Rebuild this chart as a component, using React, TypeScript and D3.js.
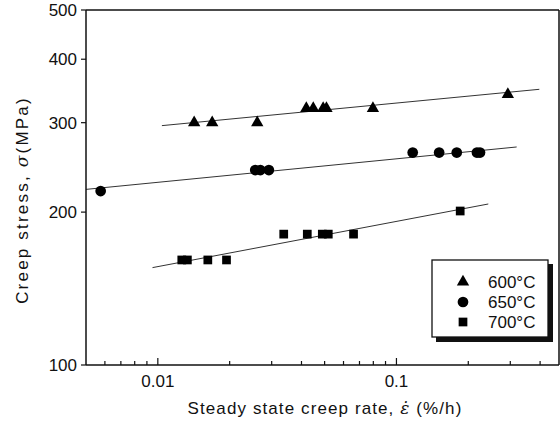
import React from "react";
import * as d3 from "d3";

const W = 560;
const H = 423;

// 600°C
const t600X = [0.0142, 0.0169, 0.0261, 0.0419, 0.0448, 0.0493, 0.0509, 0.0797, 0.293];
const t600Y = [300, 300, 300, 320, 320, 320, 320, 320, 341];
// 650°C
const t650X = [0.00576, 0.0256, 0.0269, 0.0292, 0.117, 0.151, 0.179, 0.2175, 0.224];
const t650Y = [220, 242, 242, 242, 262, 262, 262, 262, 262];
// 700°C
const t700X = [0.0126, 0.0133, 0.0162, 0.0194, 0.0337, 0.0423, 0.0489, 0.0518, 0.0661, 0.185];
const t700Y = [161, 161, 161, 161, 181, 181, 181, 181, 181, 201];

// fitted lines (endpoints)
const fit600X = [0.0104, 0.397];
const fit600Y = [296, 349];
const fit650X = [0.005, 0.319];
const fit650Y = [221.7, 268.7];
const fit700X = [0.0095, 0.2426];
const fit700Y = [155.5, 207.5];

const yTicks = [100, 200, 300, 400, 500];
const xMajor = [0.01, 0.1];
const xLabels = ["0.01", "0.1"];
const xMinor = [0.006, 0.007, 0.008, 0.009, 0.02, 0.03, 0.04, 0.05, 0.06, 0.07, 0.08, 0.09, 0.2, 0.3, 0.4];

const legendLabels = ["600°C", "650°C", "700°C"];

const font = "Arial, 'Liberation Sans', Helvetica, sans-serif";

export default function App() {
  const x = d3.scaleLog().domain([0.005, 0.48]).range([86, 559]);
  const y = d3.scaleLog().domain([100, 500]).range([365, 10]);
  const line = d3
    .line<[number, number]>()
    .x((d) => x(d[0]))
    .y((d) => y(d[1]));

  const fits = [
    [fit600X, fit600Y],
    [fit650X, fit650Y],
    [fit700X, fit700Y],
  ];

  const tri = d3.symbol().type(d3.symbolTriangle).size(66)();
  const circ = d3.symbol().type(d3.symbolCircle).size(90)();
  const sq = d3.symbol().type(d3.symbolSquare).size(76)();

  const x0 = 86, x1 = 559, y0 = 365, y1 = 10;

  return (
    <svg
      width={W}
      height={H}
      style={{ position: "absolute", left: 0, top: 0, background: "#fff" }}
      fontFamily={font}
    >
      <rect x={0} y={0} width={W} height={H} fill="#fff" />
      {/* fit lines */}
      {fits.map(([fx, fy], i) => (
        <path
          key={i}
          d={line(fx.map((v, j) => [v, fy[j]] as [number, number])) || ""}
          fill="none"
          stroke="#333"
          strokeWidth={1}
        />
      ))}
      {/* frame */}
      <line x1={x0} y1={y1} x2={x1} y2={y1} stroke="#111" strokeWidth={1.5} />
      <line x1={x1} y1={y1} x2={x1} y2={y0} stroke="#111" strokeWidth={1.5} />
      <line x1={x0} y1={y0} x2={x1} y2={y0} stroke="#111" strokeWidth={1.5} />
      <line x1={x0} y1={y1} x2={x0} y2={y0} stroke="#111" strokeWidth={1.5} />
      {/* y ticks */}
      {yTicks.map((t) => (
        <g key={t}>
          <line x1={x0 - 5} x2={x0} y1={y(t)} y2={y(t)} stroke="#111" strokeWidth={1.2} />
          <text x={77} y={y(t)} dy="0.36em" textAnchor="end" fontSize={17} fill="#111">
            {t}
          </text>
        </g>
      ))}
      {/* x ticks */}
      {xMinor.map((t) => (
        <line key={t} x1={x(t)} x2={x(t)} y1={y0} y2={y0 - 4} stroke="#111" strokeWidth={1.2} />
      ))}
      {xMajor.map((t, i) => (
        <g key={t}>
          <line x1={x(t)} x2={x(t)} y1={y0} y2={y0 - 7} stroke="#111" strokeWidth={1.2} />
          <text x={x(t)} y={387} textAnchor="middle" fontSize={17} fill="#111">
            {xLabels[i]}
          </text>
        </g>
      ))}
      {/* points */}
      {t600X.map((v, i) => (
        <path key={"a" + i} d={tri || ""} transform={`translate(${x(v)},${y(t600Y[i])})`} fill="#000" />
      ))}
      {t650X.map((v, i) => (
        <path key={"b" + i} d={circ || ""} transform={`translate(${x(v)},${y(t650Y[i])})`} fill="#000" />
      ))}
      {t700X.map((v, i) => (
        <path key={"c" + i} d={sq || ""} transform={`translate(${x(v)},${y(t700Y[i])})`} fill="#000" />
      ))}
      {/* legend */}
      <rect x={436} y={264} width={117} height={78} fill="#111" />
      <rect x={432} y={260} width={116} height={77} fill="#fff" stroke="#111" strokeWidth={1.3} />
      {legendLabels.map((lab, i) => (
        <g key={lab} transform={`translate(0,${282 + i * 20})`}>
          <path
            d={(i === 0 ? tri : i === 1 ? circ : sq) || ""}
            transform="translate(463,0)"
            fill="#000"
          />
          <text x={488} y={0} dy="0.36em" fontSize={17} fill="#111">
            {lab}
          </text>
        </g>
      ))}
      {/* axis titles */}
      <text x={325} y={414} textAnchor="middle" fontSize={17} letterSpacing={1.1} fill="#111">
        Steady state creep rate,{" "}
        <tspan fontFamily="'DejaVu Serif', 'Liberation Serif', serif" fontStyle="italic">
          ε̇
        </tspan>
        {"  (%/h)"}
      </text>
      <text
        transform="translate(28,200) rotate(-90)"
        textAnchor="middle"
        fontSize={17}
        letterSpacing={2.2}
        fill="#111"
      >
        Creep stress,{" "}
        <tspan fontFamily="'DejaVu Serif', 'Liberation Serif', serif" fontStyle="italic">
          σ
        </tspan>
        (MPa)
      </text>
    </svg>
  );
}
